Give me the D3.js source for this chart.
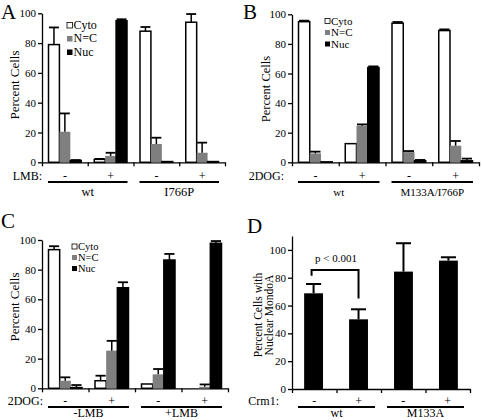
<!DOCTYPE html>
<html><head><meta charset="utf-8">
<script src="https://cdn.jsdelivr.net/npm/d3@7"></script>
<style>
body{margin:0;background:#fff}
svg{display:block}
text{font-family:"Liberation Serif","Times New Roman",serif;fill:#000}
</style>
</head><body>
<svg id="chart" width="482" height="420"></svg>
<script>
// ---------- shared ----------
const seriesNames = ["Cyto", "N=C", "Nuc"];
const seriesColors = ["#ffffff", "#7f7f7f", "#000000"];
const yTicks = [0, 20, 40, 60, 80, 100];

// ---------- Panel A ----------
const signsA = ["-", "+", "-", "+"];
const strainsA = ["wt", "I766P"];
const cytoA = [79, 2, 88, 94];
const cytoErrA = [11.5, 0.3, 2.8, 5.5];
const ncA = [20.5, 4.3, 12.3, 6.4];
const ncErrA = [12.3, 2.1, 4.2, 6.8];
const nucA = [1.2, 95, 0.5, 0.5];
const nucErrA = [0.3, 1, 0, 0];

// ---------- Panel B ----------
const signsB = ["-", "+", "-", "+"];
const strainsB = ["wt", "M133A/I766P"];
const cytoB = [95, 12.6, 94, 89];
const cytoErrB = [0.7, 0, 0.8, 0.8];
const ncB = [6, 24.7, 6.9, 11.2];
const ncErrB = [1.2, 0.9, 0.7, 3.2];
const nucB = [0.3, 64, 1, 1];
const nucErrB = [0, 0.8, 0.6, 1.5];

// ---------- Panel C ----------
const signsC = ["-", "+", "-", "+"];
const strainsC = ["-LMB", "+LMB"];
const cytoC = [93.5, 5.1, 2.9, 0];
const cytoErrC = [2.3, 3.4, 0, 0];
const ncC = [5.1, 25.4, 9.4, 1];
const ncErrC = [2.3, 6.6, 3.6, 1.6];
const nucC = [0.5, 67.8, 86.5, 97.8];
const nucErrC = [1.7, 3.7, 4.1, 1.5];

// ---------- Panel D ----------
const signsD = ["-", "+", "-", "+"];
const strainsD = ["wt", "M133A"];
const nuclearD = [68.8, 50.1, 84.4, 92.3];
const nuclearErrD = [6.7, 7.2, 20.4, 2.4];
const yTicksD = [0, 20, 40, 60, 80, 100];
const pValueLabel = "p < 0.001";

const svg = d3.select("#chart");

function styleAxis(g, fs) {
  g.attr("font-family", null).attr("font-size", null);
  g.selectAll("path.domain").attr("stroke", "#000").attr("stroke-width", 1.3);
  g.selectAll(".tick line").attr("stroke", "#000").attr("stroke-width", 1.3);
  g.selectAll(".tick text").style("font-size", fs + "px").attr("fill", "#000");
}

function drawFrame(cfg) {
  const g = svg.append("g");
  const y = d3.scaleLinear().domain(cfg.yDomain).range([cfg.y0, cfg.yTopPx]);
  const gx = d3.scaleLinear().domain([0, 4]).range([cfg.x0, cfg.x1]);
  const ya = g.append("g").attr("transform", `translate(${cfg.x0},0)`)
    .call(d3.axisLeft(y).tickValues(cfg.ticks).tickSize(4).tickSizeOuter(0).tickPadding(2));
  styleAxis(ya, 11);
  const xa = g.append("g").attr("transform", `translate(0,${cfg.y0})`)
    .call(d3.axisBottom(gx).tickValues([0, 1, 2, 3, 4]).tickFormat("").tickSize(4).tickSizeOuter(0));
  styleAxis(xa, 11);
  g.append("text").attr("x", cfg.letterX).attr("y", cfg.letterY)
    .style("font-size", "21px").text(cfg.letter);
  cfg.yTitle.forEach((t, i) => {
    g.append("text")
      .attr("transform", `translate(${cfg.yTitleX[i]},${cfg.yTitleY}) rotate(-90)`)
      .attr("text-anchor", "middle").style("font-size", cfg.yTitleSize + "px").text(t);
  });
  g.append("text").attr("x", cfg.rowLabelX).attr("y", cfg.rowY)
    .attr("text-anchor", "end").style("font-size", "12px").text(cfg.rowLabel);
  cfg.signs.forEach((s, i) => {
    g.append("text").attr("x", gx(i + 0.5)).attr("y", cfg.rowY)
      .attr("text-anchor", "middle").style("font-size", "12px").text(s);
  });
  cfg.strains.forEach((s, k) => {
    g.append("line")
      .attr("x1", gx(2 * k) + 6).attr("x2", gx(2 * k + 2) - 6)
      .attr("y1", cfg.lineY).attr("y2", cfg.lineY)
      .attr("stroke", "#000").attr("stroke-width", 2);
    g.append("text").attr("x", gx(2 * k + 1)).attr("y", cfg.strainY)
      .attr("text-anchor", "middle").style("font-size", cfg.strainSize + "px").text(s);
  });
  return { g, y, gx };
}

function drawGrouped(cfg) {
  const { g, y, gx } = drawFrame(cfg);
  const gw = gx(1) - gx(0);
  const inner = d3.scaleBand().domain(seriesNames).range([cfg.pad, gw - cfg.pad]);
  const bw = inner.bandwidth();
  cfg.values.forEach((vals, si) => {
    const errs = cfg.errors[si];
    vals.forEach((v, i) => {
      const bx = gx(i) + inner(seriesNames[si]);
      g.append("rect")
        .attr("x", bx).attr("y", y(v))
        .attr("width", bw).attr("height", Math.max(0, y(0) - y(v)))
        .attr("fill", seriesColors[si])
        .attr("stroke", si === 1 ? "none" : "#000")
        .attr("stroke-width", 1.5);
      const e = errs[i];
      if (e > 0) {
        const cx = bx + bw / 2;
        g.append("line").attr("x1", cx).attr("x2", cx)
          .attr("y1", y(v)).attr("y2", y(v + e))
          .attr("stroke", "#000").attr("stroke-width", 1.5);
        g.append("line").attr("x1", bx + 0.5).attr("x2", bx + bw - 0.5)
          .attr("y1", y(v + e)).attr("y2", y(v + e))
          .attr("stroke", "#000").attr("stroke-width", 1.8);
      }
    });
  });
  seriesNames.forEach((n, si) => {
    const ly = cfg.legendY[si];
    g.append("rect").attr("x", cfg.legendX).attr("y", ly - 2.5)
      .attr("width", cfg.legendSq).attr("height", cfg.legendSq)
      .attr("fill", seriesColors[si])
      .attr("stroke", si === 0 ? "#000" : "none").attr("stroke-width", 0.8);
    g.append("text").attr("x", cfg.legendX + cfg.legendSq + 1).attr("y", ly + 3.8)
      .style("font-size", cfg.legendSize + "px").text(n);
  });
}

// Panel A
drawGrouped({
  x0: 42, x1: 225, y0: 162.3, yTopPx: 13.3, yDomain: [0, 100], ticks: yTicks,
  letter: "A", letterX: 1, letterY: 19,
  yTitle: ["Percent Cells"], yTitleX: [19], yTitleY: 85, yTitleSize: 13,
  rowLabel: "LMB:", rowLabelX: 42, rowY: 179.5, signs: signsA,
  strains: strainsA, lineY: 182, strainY: 196, strainSize: 12.5,
  pad: 6.5,
  values: [cytoA, ncA, nucA], errors: [cytoErrA, ncErrA, nucErrA],
  legendX: 67, legendY: [25, 38.5, 52], legendSq: 5.5, legendSize: 12
});

// Panel B
drawGrouped({
  x0: 292, x1: 479, y0: 162.3, yTopPx: 14.3, yDomain: [0, 100], ticks: yTicks,
  letter: "B", letterX: 243, letterY: 19,
  yTitle: ["Percent Cells"], yTitleX: [270], yTitleY: 89, yTitleSize: 12.5,
  rowLabel: "2DOG:", rowLabelX: 284, rowY: 179.5, signs: signsB,
  strains: strainsB, lineY: 182, strainY: 196, strainSize: 11,
  pad: 6.5,
  values: [cytoB, ncB, nucB], errors: [cytoErrB, ncErrB, nucErrB],
  legendX: 325, legendY: [21, 32.5, 44], legendSq: 5, legendSize: 11
});

// Panel C
drawGrouped({
  x0: 42, x1: 228, y0: 388.3, yTopPx: 240, yDomain: [0, 100], ticks: yTicks,
  letter: "C", letterX: 1, letterY: 228,
  yTitle: ["Percent Cells"], yTitleX: [19], yTitleY: 307, yTitleSize: 13,
  rowLabel: "2DOG:", rowLabelX: 43, rowY: 404.5, signs: signsC,
  strains: strainsC, lineY: 407, strainY: 417, strainSize: 12,
  pad: 6.5,
  values: [cytoC, ncC, nucC], errors: [cytoErrC, ncErrC, nucErrC],
  legendX: 72, legendY: [246.5, 257.5, 268.5], legendSq: 5, legendSize: 10.5
});

// Panel D
(function () {
  const cfg = {
    x0: 292, x1: 470, y0: 389, yTopPx: 236, yDomain: [0, 110], ticks: yTicksD,
    letter: "D", letterX: 247, letterY: 233,
    yTitle: ["Percent Cells with", "Nuclear MondoA"], yTitleX: [262, 273], yTitleY: 315, yTitleSize: 11.5,
    rowLabel: "Crm1:", rowLabelX: 279, rowY: 404.5, signs: signsD,
    strains: strainsD, lineY: 407, strainY: 417, strainSize: 12
  };
  const { g, y, gx } = drawFrame(cfg);
  const band = d3.scaleBand().domain(d3.range(4)).range([cfg.x0, cfg.x1]).paddingInner(0.58).paddingOuter(0.27);
  const bw = band.bandwidth();
  nuclearD.forEach((v, i) => {
    const bx = band(i);
    g.append("rect").attr("x", bx).attr("y", y(v)).attr("width", bw)
      .attr("height", y(0) - y(v)).attr("fill", "#000");
    const cx = bx + bw / 2, top = y(v + nuclearErrD[i]);
    g.append("line").attr("x1", cx).attr("x2", cx).attr("y1", y(v)).attr("y2", top)
      .attr("stroke", "#000").attr("stroke-width", 2);
    g.append("line").attr("x1", cx - bw * 0.4).attr("x2", cx + bw * 0.4).attr("y1", top).attr("y2", top)
      .attr("stroke", "#000").attr("stroke-width", 2);
  });
  const lx = band(0) + bw / 2 - 2, rx = band(1) + bw / 2;
  const by = y(85.5);
  g.append("path")
    .attr("d", `M${lx},${y(81.5)} L${lx},${by} L${rx},${by} L${rx},${y(65)}`)
    .attr("fill", "none").attr("stroke", "#000").attr("stroke-width", 2);
  g.append("text").attr("x", (lx + rx) / 2 + 1).attr("y", by - 8)
    .attr("text-anchor", "middle").style("font-size", "11px").text(pValueLabel);
})();
</script>
</body></html>
